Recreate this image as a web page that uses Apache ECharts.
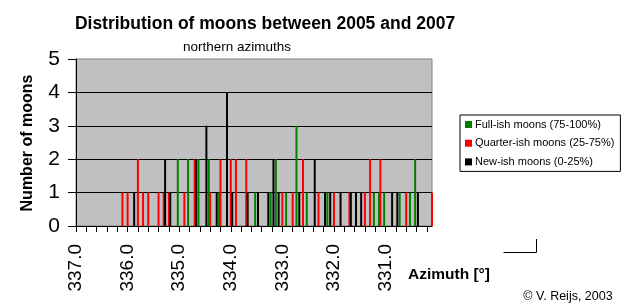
<!DOCTYPE html>
<html>
<head>
<meta charset="utf-8">
<script src="https://cdn.jsdelivr.net/npm/echarts@6/dist/echarts.min.js"></script>
<style>
html,body{margin:0;padding:0;background:#fff;}
#chart{width:627px;height:308px;}
</style>
</head>
<body>
<div id="chart"></div>
<script>
// Azimuth categories (degrees), 0.1 step, plotted from 337.0 down to 330.1
const categories = ['337.0','336.9','336.8','336.7','336.6','336.5','336.4','336.3','336.2','336.1',
  '336.0','335.9','335.8','335.7','335.6','335.5','335.4','335.3','335.2','335.1',
  '335.0','334.9','334.8','334.7','334.6','334.5','334.4','334.3','334.2','334.1',
  '334.0','333.9','333.8','333.7','333.6','333.5','333.4','333.3','333.2','333.1',
  '333.0','332.9','332.8','332.7','332.6','332.5','332.4','332.3','332.2','332.1',
  '332.0','331.9','331.8','331.7','331.6','331.5','331.4','331.3','331.2','331.1',
  '331.0','330.9','330.8','330.7','330.6','330.5','330.4','330.3','330.2','330.1'];

// [azimuth, number of moons]
const fullMoons = [['335.0',2],['334.8',2],['334.6',2],['334.4',2],['334.2',1],['333.5',1],
  ['333.2',1],['333.1',2],['332.9',1],['332.7',3],['332.5',1],['332.1',1],['331.2',1],
  ['331.1',1],['331.0',1],['330.7',1],['330.5',1],['330.4',2]];
const quarterMoons = [['336.1',1],['336.0',1],['335.8',2],['335.7',1],['335.6',1],['335.4',1],
  ['335.3',1],['335.2',1],['334.9',1],['334.7',2],['334.4',1],['334.2',2],['334.0',2],
  ['333.9',2],['333.7',2],['333.0',1],['332.8',1],['332.6',2],['332.3',1],['332.0',1],
  ['331.7',1],['331.4',1],['331.3',2],['331.1',2],['330.6',1],['330.1',1]];
const newMoons = [['335.9',1],['335.3',2],['335.2',1],['334.7',2],['334.5',3],['334.3',1],
  ['334.1',4],['334.0',1],['333.7',1],['333.5',1],['333.3',1],['333.2',2],['333.1',1],
  ['332.7',1],['332.4',2],['332.2',1],['332.1',1],['331.9',1],['331.7',1],['331.6',1],
  ['331.5',1],['330.9',1],['330.8',1],['330.4',1]];

const seriesNames = ['Full-ish moons (75-100%)','Quarter-ish moons (25-75%)','New-ish moons (0-25%)'];
const FONT = 'Arial, "Liberation Sans", sans-serif';

const chart = echarts.init(document.getElementById('chart'), null, {renderer:'canvas'});
const barCommon = {type:'bar', barWidth:2, barGap:'-30%', animation:false};
chart.setOption({
  backgroundColor:'#ffffff',
  animation:false,
  grid:{left:76, top:59, right:195, bottom:82, show:true, backgroundColor:'#C0C0C0',
        borderColor:'#808080', borderWidth:1},
  legend:{
    orient:'vertical', left:460, top:115, padding:[3,6,3,5],
    borderColor:'#000', borderWidth:1, backgroundColor:'#fff',
    itemWidth:7, itemHeight:7, itemGap:5.7, icon:'rect',
    textStyle:{fontFamily:FONT, fontSize:11, color:'#000', lineHeight:13, padding:[0,0,0,-2]},
    data:seriesNames
  },
  xAxis:{
    type:'category', data:categories, boundaryGap:false,
    axisLine:{show:true, lineStyle:{color:'#000', width:1}},
    axisTick:{show:true, interval:1, length:6, lineStyle:{color:'#000'}},
    axisLabel:{interval:9, rotate:90, margin:18, fontFamily:FONT, fontSize:19, color:'#000'},
    splitLine:{show:false}
  },
  yAxis:{
    type:'value', min:0, max:5, interval:1,
    axisLine:{show:true, lineStyle:{color:'#000', width:1}},
    axisTick:{show:true, length:8, lineStyle:{color:'#000'}},
    axisLabel:{margin:16, fontFamily:FONT, fontSize:21, color:'#000'},
    splitLine:{show:true, showMaxLine:false, lineStyle:{color:'#000', width:1}}
  },
  series:[
    Object.assign({name:seriesNames[0], data:fullMoons, itemStyle:{color:'#008000'}}, barCommon),
    Object.assign({name:seriesNames[1], data:quarterMoons, itemStyle:{color:'#FF0000'}}, barCommon),
    Object.assign({name:seriesNames[2], data:newMoons, itemStyle:{color:'#000000'}}, barCommon)
  ],
  graphic:[
    {type:'text', x:265, y:24, style:{text:'Distribution of moons between 2005 and 2007',
      fontFamily:FONT, fontSize:17.5, fontWeight:'bold', fill:'#000', align:'center', verticalAlign:'middle'}},
    {type:'text', x:237, y:47, style:{text:'northern azimuths',
      fontFamily:FONT, fontSize:13.5, fill:'#000', align:'center', verticalAlign:'middle'}},
    {type:'text', x:27.5, y:143, rotation:Math.PI/2, style:{text:'Number of moons',
      fontFamily:FONT, fontSize:16, fontWeight:'bold', fill:'#000', align:'center', verticalAlign:'middle'}},
    {type:'text', x:449, y:274.5, style:{text:'Azimuth [°]',
      fontFamily:FONT, fontSize:15.5, fontWeight:'bold', fill:'#000', align:'center', verticalAlign:'middle'}},
    {type:'text', x:568, y:297, style:{text:'© V. Reijs, 2003',
      fontFamily:FONT, fontSize:12.5, fill:'#000', align:'center', verticalAlign:'middle'}},
    {type:'polyline', shape:{points:[[503.5,252.5],[536.5,252.5],[536.5,239]]},
      style:{stroke:'#000', lineWidth:1, fill:null}}
  ]
});
</script>
</body>
</html>
